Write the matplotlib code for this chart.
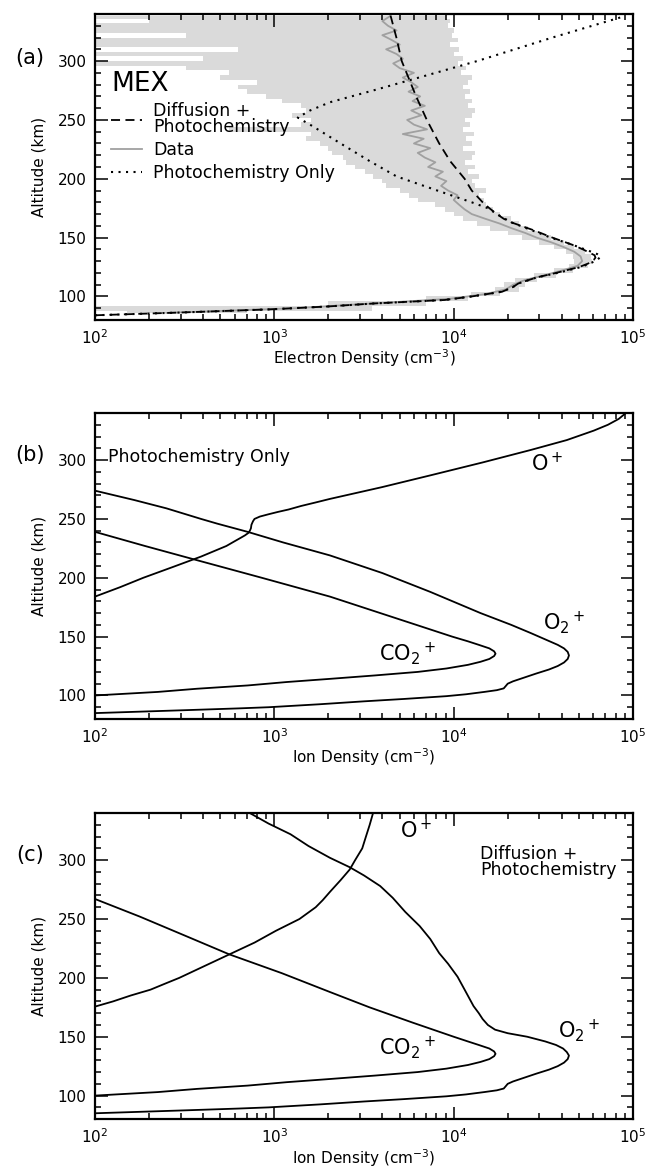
import matplotlib
matplotlib.use('Agg')
import matplotlib.pyplot as plt
from matplotlib.ticker import MultipleLocator, LogLocator, NullFormatter

plt.rcParams['font.family'] = ['DejaVu Sans']
plt.rcParams['mathtext.fontset'] = 'dejavusans'

# ---- (a) MEX electron density ----
mex_alt = [86, 90, 94, 98, 102, 106, 110, 114, 118, 122, 126, 130, 134, 138, 142, 146,
           150, 154, 158, 162, 166, 170, 174, 178, 182, 186, 190, 194, 198, 202, 206, 210,
           214, 218, 222, 226, 230, 234, 238, 242, 246, 250, 254, 258, 262, 266, 270, 274,
           278, 282, 286, 290, 294, 298, 302, 306, 310, 314, 318, 322, 326, 330, 334, 338]
mex_data = [250, 1300, 3500, 9500, 15000, 19500, 21500, 25000, 32000, 40000, 49000, 52000,
            51000, 47000, 41000, 35000, 29000, 25000, 21000, 18000, 15000, 12600, 11500, 10700,
            10000, 10500, 9300, 8500, 9100, 7900, 8700, 7200, 7900, 6900, 6300, 7400,
            6000, 6800, 5200, 7100, 6000, 5500, 6600, 5800, 6900, 5900, 6500, 5600,
            6300, 5800, 5200, 6000, 5000, 4600, 5200, 4800, 4200, 5000, 4500, 4000,
            4800, 4300, 4000, 4400]
mex_lo = [150, 100, 2000, 7000, 12500, 17000, 19000, 22000, 28000, 36000, 44000, 47000,
          46000, 42000, 36000, 30000, 24000, 20000, 16000, 13500, 11200, 10000, 8900, 7900,
          6300, 5600, 5000, 4200, 4000, 3550, 3200, 2800, 2500, 2400, 2100, 2000,
          1800, 1500, 1600, 560, 1400, 1600, 1260, 1500, 1400, 1100, 900, 700,
          630, 800, 500, 560, 320, 100, 400, 100, 630, 100, 100, 320,
          100, 100, 200, 100]
mex_hi = [700, 3500, 7000, 12000, 18000, 23000, 25000, 29000, 37000, 46000, 56000, 59000,
          58000, 54000, 47000, 41000, 35000, 30000, 26000, 23000, 20900, 18200, 16600, 15100,
          14800, 13800, 15100, 13200, 12600, 13800, 12000, 13200, 11500, 12600, 13200, 11200,
          12600, 11700, 12900, 11200, 12300, 11500, 12600, 13200, 12000, 12600, 11500, 12300,
          11200, 12000, 12600, 11000, 11700, 10500, 11200, 10000, 10700, 9500, 10500, 9800,
          10000, 9300, 9500, 9100]

diff_alt = [84, 86.5, 89, 91.5, 94, 97, 100, 104, 108, 111, 116, 120, 125, 128, 131, 133,
            135, 137, 140, 144, 150, 156, 163, 166, 170, 175, 180, 190, 200, 215, 230, 250,
            270, 300, 320, 340]
diff_ne = [100, 320, 930, 2000, 3550, 8900, 12600, 18600, 21400, 22900, 28800, 37200,
           50100, 56200, 60300, 61700, 61000, 57500, 52500, 45700, 35500, 28200, 20900,
           19000, 17400, 15800, 14500, 12600, 11500, 9550, 8300, 7080, 6170, 5130, 4790, 4420]

photo_alt = [84, 86.5, 89, 91.5, 94, 97, 100, 104, 108, 111, 116, 120, 125, 128, 131, 134,
             136, 139, 144, 150, 156, 163, 170, 175, 180, 190, 202, 215, 230, 245, 252, 258,
             265, 275, 284, 300, 320, 338]
photo_ne = [100, 320, 930, 2000, 3550, 8900, 12600, 18600, 21400, 22900, 28800, 38000,
            51300, 57500, 63100, 66100, 63100, 56200, 45700, 34700, 27500, 20900, 17400,
            15500, 12600, 8100, 4800, 3400, 2340, 1620, 1350, 1580, 2040, 3550, 5750, 13500,
            35500, 89100]

# ---- ion profiles, lower branches shared by (b) and (c) ----
o2p_low_alt = [85, 86, 87.5, 89, 90, 92.5, 95, 97, 99.4, 101, 103, 104.5, 106, 108, 110,
               112, 115, 118.6, 122, 125, 128, 131]
o2p_low_n = [100, 160, 320, 630, 930, 1780, 3160, 5250, 9100, 11700, 14800, 17400, 19000,
             19500, 20000, 21400, 24500, 28800, 33900, 38000, 41200, 43200]
co2p_low_alt = [100, 103, 105.7, 108.5, 111.4, 114, 117, 120, 122.9, 126, 128.6, 131, 133.5]
co2p_low_n = [100, 224, 370, 710, 1170, 2000, 3630, 6300, 9100, 12000, 14100, 15800, 16800]

# (b) photochemistry only, upper branches
o2p_b_alt = [134, 137, 140, 143, 147, 153, 160, 170, 188, 204, 219, 230, 239, 246, 250,
             259, 266, 274]
o2p_b_n = [43900, 43200, 41200, 38000, 33100, 26900, 20900, 14100, 7400, 4000, 2040, 1120,
           710, 480, 390, 250, 166, 100]
co2p_b_alt = [135.5, 137.5, 140, 143, 146, 150, 161, 172, 184, 200, 214, 227, 239]
co2p_b_n = [17100, 16800, 15800, 13800, 12000, 9800, 5900, 3550, 2040, 850, 390, 190, 100]
op_b_alt = [184, 192, 200, 209, 218, 227, 231, 234, 236, 238, 240, 242, 245, 248, 250,
            252, 254, 256, 258, 261, 264, 267, 277, 287, 298, 308.6, 317, 325, 330, 335, 340]
op_b_n = [100, 138, 186, 270, 390, 540, 600, 650, 685, 715, 730, 740, 745, 760, 775,
          830, 930, 1050, 1200, 1410, 1700, 2040, 3980, 7400, 14500, 26900, 42700, 60300,
          72400, 83200, 91200]

# (c) diffusion + photochemistry, upper branches
o2p_c_alt = [134, 137, 140, 143, 146, 150, 153, 156, 160, 165, 170, 176, 190, 201, 212,
             221, 233, 244, 256, 268, 278, 287, 294, 302, 312, 322, 331, 341]
o2p_c_n = [43900, 42700, 40700, 37200, 32400, 25700, 20000, 17000, 15500, 14500, 13800,
           12900, 11500, 10500, 9300, 8300, 7400, 6460, 5370, 4570, 3890, 3160, 2630, 2040,
           1550, 1230, 930, 710]
co2p_c_alt = [135.5, 137.5, 140, 143, 146, 150, 162, 175, 188, 204, 220, 236, 252, 267]
co2p_c_n = [17100, 16800, 15800, 13800, 12000, 10000, 5900, 3390, 2040, 1100, 560, 316,
            178, 100]
op_c_alt = [175.6, 180, 185, 190, 195, 200, 210, 220, 230, 240, 250, 260, 266, 273, 283,
            292, 300, 310, 320, 330, 340]
op_c_n = [100, 126, 158, 204, 245, 295, 407, 562, 776, 1020, 1380, 1700, 1860, 2040, 2340,
          2630, 2820, 3090, 3240, 3400, 3550]

ion_labels = ['O$^+$', 'O$_2$$^+$', 'CO$_2$$^+$']
label_pos_b = [(33000, 297), (41000, 162), (5500, 136)]
label_pos_c = [(6200, 325), (50000, 155), (5500, 141)]


def style_axes(ax, xlabel):
    ax.set_xscale('log')
    ax.set_xlim(1e2, 1e5)
    ax.set_ylim(80, 340)
    ax.yaxis.set_major_locator(MultipleLocator(50))
    ax.yaxis.set_minor_locator(MultipleLocator(10))
    ax.xaxis.set_major_locator(LogLocator(base=10))
    ax.xaxis.set_minor_locator(LogLocator(base=10, subs=range(2, 10)))
    ax.xaxis.set_minor_formatter(NullFormatter())
    ax.tick_params(which='both', direction='in', top=True, right=True,
                   labelsize=11, width=1.1)
    ax.tick_params(which='major', length=9, pad=6)
    ax.tick_params(which='minor', length=4.5)
    for s in ax.spines.values():
        s.set_linewidth(1.6)
    ax.set_xlabel(xlabel, fontsize=11, labelpad=0.5)
    ax.set_ylabel('Altitude (km)', fontsize=11, labelpad=8)


fig = plt.figure(figsize=(6.57, 11.67), dpi=100)
ax_a = fig.add_axes([0.1446, 0.7258, 0.819, 0.2622])
ax_b = fig.add_axes([0.1446, 0.3839, 0.819, 0.2622])
ax_c = fig.add_axes([0.1446, 0.0410, 0.819, 0.2623])

# (a)
ax_a.fill_betweenx(mex_alt, mex_lo, mex_hi, step='mid', color='#dadada', lw=0)
data_line, = ax_a.plot(mex_data, mex_alt, color='#a0a0a0', lw=1.3)
diff_line, = ax_a.plot(diff_ne, diff_alt, color='black', lw=1.3, ls=(0, (5, 3)))
photo_line, = ax_a.plot(photo_ne, photo_alt, color='black', lw=1.5, ls=(0, (1, 2.6)))
style_axes(ax_a, 'Electron Density (cm$^{-3}$)')

leg = ax_a.legend([diff_line, data_line, photo_line],
                  ['Diffusion +\nPhotochemistry', 'Data', 'Photochemistry Only'],
                  title='MEX', title_fontsize=19, fontsize=12.5, loc='upper left',
                  bbox_to_anchor=(0.03, 0.815), borderaxespad=0, borderpad=0,
                  frameon=False, handlelength=1.8, handletextpad=0.6,
                  labelspacing=0.3, alignment='left')
leg.get_texts()[0].set_linespacing(0.85)

# (b)
for n, alt in [(o2p_low_n + o2p_b_n, o2p_low_alt + o2p_b_alt),
               (co2p_low_n + co2p_b_n, co2p_low_alt + co2p_b_alt),
               (op_b_n, op_b_alt)]:
    ax_b.plot(n, alt, color='black', lw=1.3)
style_axes(ax_b, 'Ion Density (cm$^{-3}$)')
ax_b.text(0.024, 0.856, 'Photochemistry Only', transform=ax_b.transAxes,
          fontsize=12.5, ha='left', va='center')

# (c)
for n, alt in [(o2p_low_n + o2p_c_n, o2p_low_alt + o2p_c_alt),
               (co2p_low_n + co2p_c_n, co2p_low_alt + co2p_c_alt),
               (op_c_n, op_c_alt)]:
    ax_c.plot(n, alt, color='black', lw=1.3)
style_axes(ax_c, 'Ion Density (cm$^{-3}$)')
ax_c.text(0.716, 0.84, 'Diffusion +\nPhotochemistry', transform=ax_c.transAxes,
          fontsize=12.5, ha='left', va='center', linespacing=0.85)

for ax, positions in [(ax_b, label_pos_b), (ax_c, label_pos_c)]:
    for txt, (x, y) in zip(ion_labels, positions):
        ax.text(x, y, txt, fontsize=15, ha='center', va='center')

for ax, letter, yy in [(ax_a, '(a)', 0.856), (ax_b, '(b)', 0.862), (ax_c, '(c)', 0.862)]:
    ax.text(-0.121, yy, letter, transform=ax.transAxes, fontsize=15,
            ha='center', va='center')

fig.savefig('out.png', dpi=100)
